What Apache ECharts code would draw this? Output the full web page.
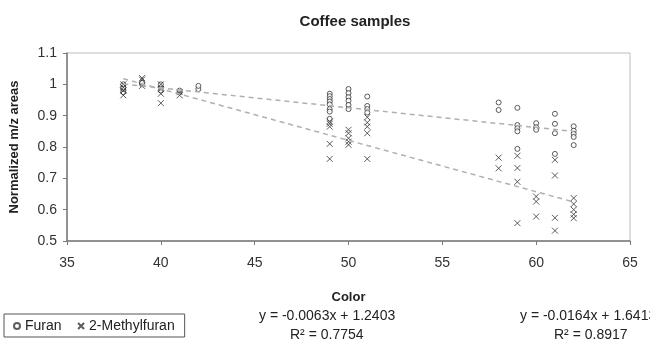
<!DOCTYPE html>
<html lang="en">
<head>
	<meta charset="UTF-8">
	<title>Coffee samples</title>
	<script src="https://cdn.jsdelivr.net/npm/echarts@6/dist/echarts.min.js"></script>
</head>
<body style="margin:0">
	<div id="chart" style="width: 650px;height: 355px;"></div>
</body>
<script>
	// Furan (circles): [color, normalized area]
	const furan = [
		[38, 0.975], [38, 0.985], [38, 0.99], [38, 1.0],
		[39, 1.0], [39, 1.005],
		[40, 0.98], [40, 0.99], [40, 1.0],
		[41, 0.975], [41, 0.98],
		[42, 0.985], [42, 0.995],
		[49, 0.97], [49, 0.962], [49, 0.953], [49, 0.945], [49, 0.936], [49, 0.921], [49, 0.913], [49, 0.89],
		[50, 0.985], [50, 0.972], [50, 0.959], [50, 0.948], [50, 0.934], [50, 0.921],
		[51, 0.961], [51, 0.931], [51, 0.921], [51, 0.91],
		[58, 0.942], [58, 0.918],
		[59, 0.925], [59, 0.87], [59, 0.86], [59, 0.85], [59, 0.794],
		[60, 0.876], [60, 0.863], [60, 0.855],
		[61, 0.906], [61, 0.874], [61, 0.844], [61, 0.778],
		[62, 0.866], [62, 0.852], [62, 0.842], [62, 0.832], [62, 0.806]
	]
	// 2-Methylfuran (crosses)
	const methylfuran = [
		[38, 0.965], [38, 0.98], [38, 0.99], [38, 1.0],
		[39, 0.995], [39, 1.015], [39, 1.02],
		[40, 0.94], [40, 0.97], [40, 0.985], [40, 1.0],
		[41, 0.965], [41, 0.975],
		[49, 0.881], [49, 0.874], [49, 0.865], [49, 0.81], [49, 0.762],
		[50, 0.855], [50, 0.844], [50, 0.828], [50, 0.817], [50, 0.807],
		[51, 0.895], [51, 0.878], [51, 0.865], [51, 0.844], [51, 0.762],
		[58, 0.766], [58, 0.732],
		[59, 0.772], [59, 0.733], [59, 0.689], [59, 0.557],
		[60, 0.642], [60, 0.626], [60, 0.578],
		[61, 0.759], [61, 0.709], [61, 0.574], [61, 0.533],
		[62, 0.637], [62, 0.618], [62, 0.6], [62, 0.585], [62, 0.573]
	]
	// linear trendlines, read at the ends of the data range
	const furanTrend = [[38, 1.0009], [62, 0.8497]]
	const methylTrend = [[38, 1.018], [62, 0.6245]]

	const furanEq = ['y = -0.0063x + 1.2403', 'R² = 0.7754']
	const methylEq = ['y = -0.0164x + 1.6413', 'R² = 0.8917']

	const font = 'Liberation Sans, Arial, sans-serif'
	const crossPath = 'path://M0,0L10,10M10,0L0,10'

	let mcharts = echarts.init(document.getElementById('chart'))

	let option = {
		animation: false,
		textStyle: { fontFamily: font },
		title: {
			text: 'Coffee samples',
			left: 350, top: 9, textAlign: 'center',
			textStyle: { fontSize: 15, fontWeight: 'bold', color: '#222', fontFamily: font }
		},
		grid: {
			left: 67, right: 20, top: 53, bottom: 114,
			show: true, borderColor: '#bdbdbd', borderWidth: 1
		},
		legend: {
			left: 4, top: 314,
			data: ['Furan', '2-Methylfuran'],
			itemWidth: 6, itemHeight: 6, itemGap: 14,
			padding: [5, 10, 4, 9],
			borderColor: '#555', borderWidth: 1, borderRadius: 0,
			textStyle: { fontSize: 14, color: '#222', fontFamily: font }
		},
		xAxis: {
			type: 'value', min: 35, max: 65, interval: 5,
			name: 'Color', nameLocation: 'middle', nameGap: 50,
			nameTextStyle: { fontSize: 13, fontWeight: 'bold', color: '#222' },
			axisLine: { lineStyle: { color: '#7a7a7a', width: 1.5 } },
			axisTick: { inside: false, length: 4, lineStyle: { color: '#7a7a7a' } },
			axisLabel: { fontSize: 14, color: '#333', margin: 15 },
			splitLine: { show: false }
		},
		yAxis: {
			type: 'value', min: 0.5, max: 1.1, interval: 0.1,
			name: 'Normalized m/z areas', nameLocation: 'middle', nameGap: 46,
			nameTextStyle: { fontSize: 13, fontWeight: 'bold', color: '#222' },
			axisLine: { show: true, lineStyle: { color: '#7a7a7a', width: 1.5 } },
			axisTick: { show: true, inside: false, length: 4, lineStyle: { color: '#7a7a7a' } },
			axisLabel: { fontSize: 14, color: '#333', margin: 10, formatter: v => +v.toFixed(1) },
			splitLine: { show: false }
		},
		series: [
			{
				name: 'Furan', type: 'scatter', data: furan,
				symbol: 'circle', symbolSize: 5,
				itemStyle: { color: '#fff', borderColor: '#333', borderWidth: 1 }
			},
			{
				name: '2-Methylfuran', type: 'scatter', data: methylfuran,
				symbol: crossPath, symbolSize: 6,
				itemStyle: { color: 'none', borderColor: '#333', borderWidth: 1 }
			},
			{
				type: 'line', data: furanTrend, symbol: 'none', silent: true,
				lineStyle: { color: '#b0b0b0', width: 1.5, type: [5, 4] }
			},
			{
				type: 'line', data: methylTrend, symbol: 'none', silent: true,
				lineStyle: { color: '#b0b0b0', width: 1.5, type: [5, 4] }
			}
		],
		graphic: [
			{
				type: 'text', left: 259, top: 309,
				style: { text: furanEq[0], font: '14px ' + font, fill: '#222' }
			},
			{
				type: 'text', left: 290, top: 328,
				style: { text: furanEq[1], font: '14px ' + font, fill: '#222' }
			},
			{
				type: 'text', left: 520, top: 309,
				style: { text: methylEq[0], font: '14px ' + font, fill: '#222' }
			},
			{
				type: 'text', left: 554, top: 328,
				style: { text: methylEq[1], font: '14px ' + font, fill: '#222' }
			}
		]
	}

	mcharts.setOption(option)
</script>
</html>
